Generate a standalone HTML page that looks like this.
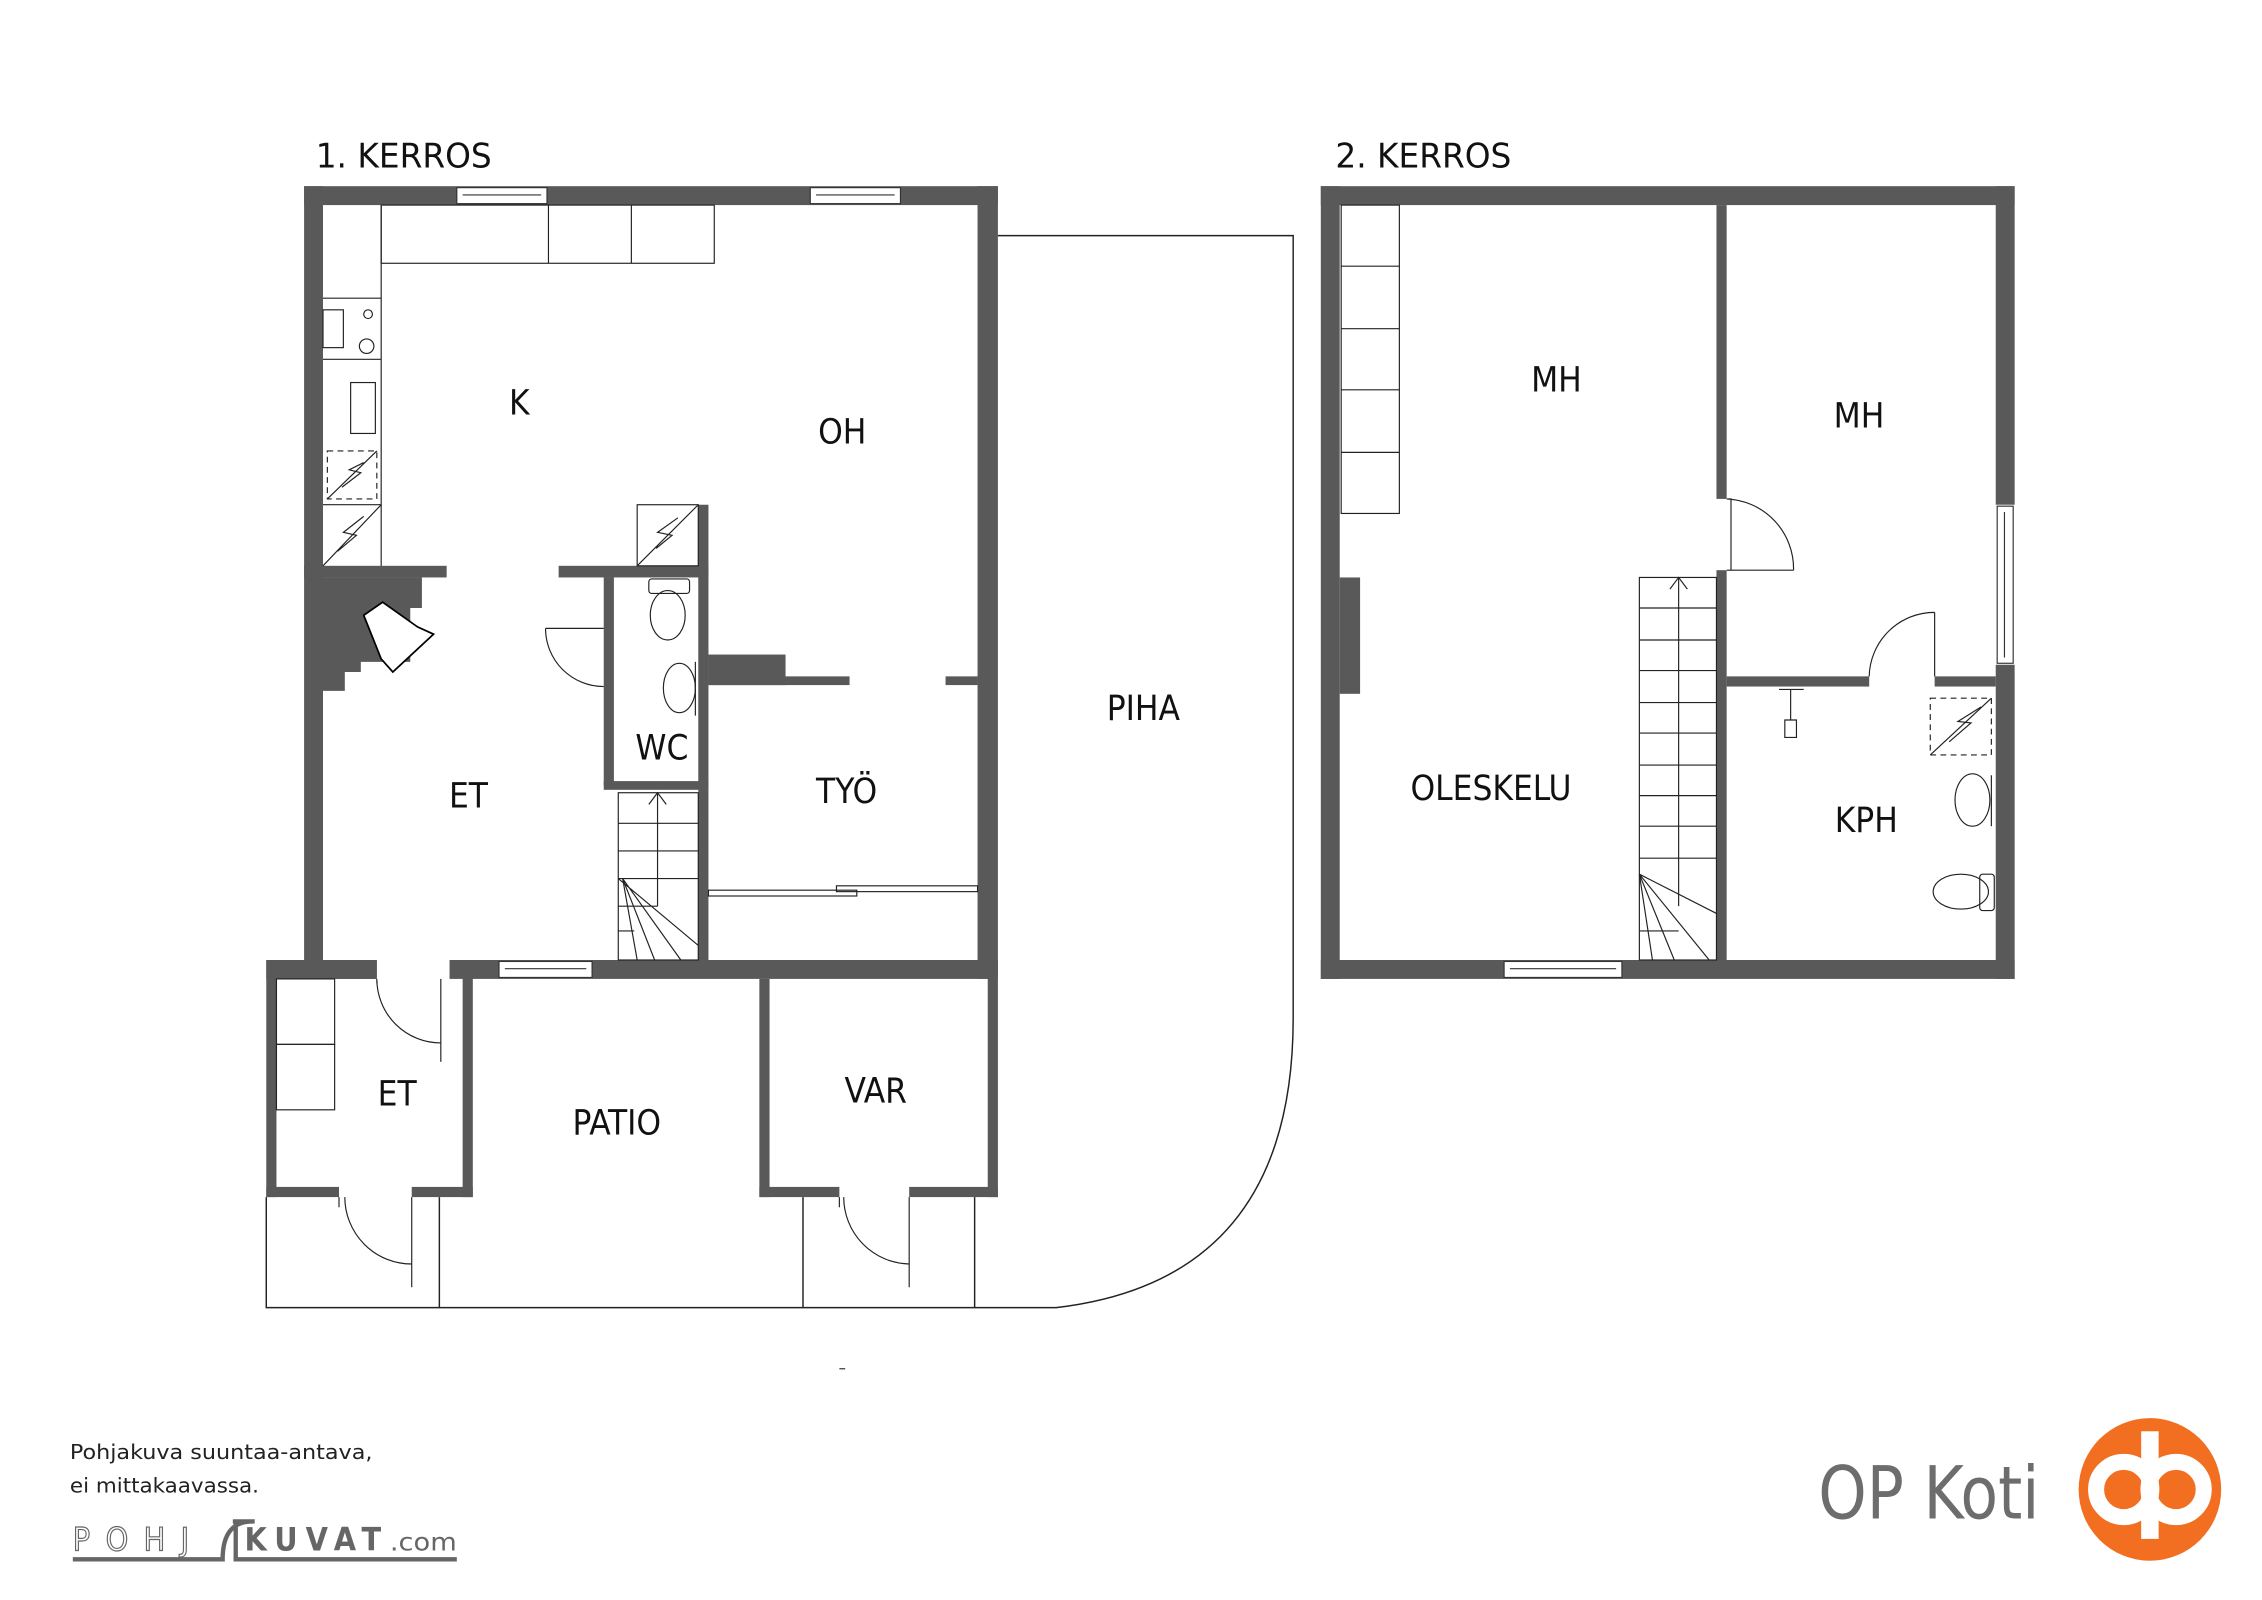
<!DOCTYPE html>
<html><head><meta charset="utf-8"><style>
html,body{margin:0;padding:0;background:#fff}
svg{display:block}
text{font-family:"DejaVu Sans Condensed","Liberation Sans Narrow","Liberation Sans",sans-serif}
</style></head><body>
<svg width="2262" height="1600" viewBox="0 0 1555 1100" xmlns="http://www.w3.org/2000/svg">
<rect width="1555" height="1100" fill="#fff"/>
<g font-size="23" fill="#111">
<text x="217" y="115" textLength="121" lengthAdjust="spacingAndGlyphs">1. KERROS</text>
<text x="918" y="115" textLength="121" lengthAdjust="spacingAndGlyphs">2. KERROS</text>
</g>
<path d="M686 162 H889 V700 Q889 880 726 899 H183 V823 M302 823 V899 M552 823 V899 M670 823 V899" fill="none" stroke="#222" stroke-width="1"/>
<g fill="#595959">
<rect x="209" y="128" width="477" height="13"/>
<rect x="209" y="128" width="13" height="545"/>
<rect x="672" y="128" width="14" height="545"/>
<rect x="209" y="660" width="50" height="13"/>
<rect x="309" y="660" width="377" height="13"/>
<rect x="183" y="660" width="76" height="13"/>
<rect x="209" y="389" width="98" height="8"/>
<path d="M222 397 H290 V418 H282 V455 H248 V462 H237 V475 H222 Z"/>
<rect x="384" y="389" width="103" height="8"/>
<rect x="415" y="397" width="7" height="143"/>
<rect x="480" y="347" width="7" height="313"/>
<rect x="415" y="537" width="72" height="6"/>
<rect x="487" y="450" width="53" height="21"/>
<rect x="487" y="465" width="97" height="6"/>
<rect x="650" y="465" width="22" height="6"/>
<rect x="183" y="660" width="7" height="163"/>
<rect x="318" y="660" width="7" height="163"/>
<rect x="183" y="816" width="50" height="7"/>
<rect x="283" y="816" width="42" height="7"/>
<rect x="522" y="673" width="7" height="150"/>
<rect x="679" y="673" width="7" height="150"/>
<rect x="522" y="816" width="55" height="7"/>
<rect x="625" y="816" width="61" height="7"/>
<rect x="908" y="128" width="477" height="13"/>
<rect x="908" y="128" width="13" height="545"/>
<rect x="1372" y="128" width="13" height="219"/>
<rect x="1372" y="457" width="13" height="216"/>
<rect x="908" y="660" width="477" height="13"/>
<rect x="1180" y="141" width="7" height="202"/>
<rect x="1180" y="392" width="7" height="268"/>
<rect x="1187" y="465" width="98" height="7"/>
<rect x="1330" y="465" width="42" height="7"/>
<rect x="921" y="397" width="14" height="80"/>
</g>
<g fill="#fff" stroke="#333" stroke-width="0.8">
<rect x="314" y="129" width="62" height="11"/><line x1="318" y1="134" x2="372" y2="134"/>
<rect x="557" y="129" width="62" height="11"/><line x1="561" y1="134" x2="615" y2="134"/>
<rect x="343" y="661" width="64" height="11"/><line x1="347" y1="666" x2="403" y2="666"/>
<rect x="1034" y="661" width="81" height="11"/><line x1="1038" y1="666" x2="1111" y2="666"/>
<rect x="1373" y="348" width="11" height="108"/><line x1="1378" y1="352" x2="1378" y2="452"/>
</g>
<g fill="none" stroke="#222" stroke-width="0.8">
<rect x="262" y="141" width="229" height="40"/>
<line x1="377" y1="141" x2="377" y2="181"/><line x1="434" y1="141" x2="434" y2="181"/>
<line x1="262" y1="141" x2="262" y2="389"/>
<line x1="222" y1="205" x2="262" y2="205"/><line x1="222" y1="247" x2="262" y2="247"/>
<rect x="222" y="213" width="14" height="26"/>
<circle cx="253" cy="216" r="3"/><circle cx="252" cy="238" r="5"/>
<rect x="241" y="263" width="17" height="35"/>
<rect x="225" y="310" width="34" height="33" stroke-dasharray="4 3"/>
<path d="M225 343 L259 310 M235 335 L248 325 L240 323 L250 318"/>
<line x1="222" y1="347" x2="262" y2="347"/>
<path d="M222 389 L262 347 M232 379 L245 368 L236 366 L250 355"/>
<rect x="438" y="347" width="42" height="42"/>
<path d="M438 389 L480 347 M451 377 L462 368 L452 366 L466 356"/>
<rect x="446" y="398" width="28" height="10" rx="2"/>
<ellipse cx="459" cy="423" rx="12" ry="17"/>
<ellipse cx="467" cy="473" rx="11" ry="17"/>
<line x1="478" y1="455" x2="478" y2="492"/>
<path d="M375 432 H415 M375 432 A40 40 0 0 0 415 472"/>
<path d="M250 423 L263 414 L287 431 L298 436 L270 462 L262 453 Z" fill="#fff" stroke="#000" stroke-width="1.2"/>
<rect x="425" y="545" width="55" height="115"/>
<line x1="425" y1="566" x2="480" y2="566"/><line x1="425" y1="585" x2="480" y2="585"/><line x1="425" y1="604" x2="480" y2="604"/>
<line x1="452" y1="545" x2="452" y2="623"/>
<path d="M446 553 L452 545 L458 553"/>
<path d="M425 604 L480 650 M428 604 L468 660 M428 604 L450 660 M428 604 L438 660 M425 623 H452 M425 640 H436"/>
<rect x="487" y="612" width="102" height="4"/>
<rect x="575" y="609" width="97" height="4"/>
<rect x="190" y="673" width="40" height="45"/><rect x="190" y="718" width="40" height="45"/>
<path d="M259 673 V676 M303 673 V730 M259 673 A44 44 0 0 0 303 717"/>
<path d="M233 823 V830 M283 823 V885 M237 823 A46 46 0 0 0 283 869"/>
<path d="M577 823 V830 M625 823 V885 M580 823 A46 46 0 0 0 625 869"/>
<rect x="922" y="141" width="40" height="212"/>
<line x1="922" y1="183" x2="962" y2="183"/><line x1="922" y1="226" x2="962" y2="226"/><line x1="922" y1="268" x2="962" y2="268"/><line x1="922" y1="311" x2="962" y2="311"/>
<path d="M1187 343 H1190 V392 M1187 392 H1233 M1187 343 A48 48 0 0 1 1233 392"/>
<path d="M1330 421 V465 M1285 465 A45 45 0 0 1 1330 421"/>
<rect x="1127" y="397" width="53" height="263"/>
<line x1="1154" y1="397" x2="1154" y2="623"/><path d="M1148 405 L1154 397 L1160 405"/>
<g>
<line x1="1127" y1="418" x2="1180" y2="418"/><line x1="1127" y1="440" x2="1180" y2="440"/><line x1="1127" y1="461" x2="1180" y2="461"/><line x1="1127" y1="483" x2="1180" y2="483"/><line x1="1127" y1="504" x2="1180" y2="504"/><line x1="1127" y1="526" x2="1180" y2="526"/><line x1="1127" y1="547" x2="1180" y2="547"/><line x1="1127" y1="568" x2="1180" y2="568"/><line x1="1127" y1="590" x2="1180" y2="590"/>
</g>
<path d="M1127 601 L1180 628 M1127 601 L1175 660 M1127 601 L1151 660 M1127 601 L1136 660 M1127 640 H1154"/>
<rect x="1327" y="480" width="42" height="39" stroke-dasharray="4 3"/>
<path d="M1327 519 L1369 480 M1340 510 L1355 497 L1346 496 L1362 486"/>
<path d="M1223 474 H1240 M1231 474 V495 M1227 495 H1235 V507 H1227 Z"/>
<ellipse cx="1356" cy="550" rx="12" ry="18"/><line x1="1369" y1="533" x2="1369" y2="568"/>
<ellipse cx="1348" cy="613" rx="19" ry="12"/><rect x="1361" y="601" width="10" height="25" rx="2"/>
</g>
<g font-size="24" fill="#111" text-anchor="middle">
<text x="357" y="285">K</text>
<text x="579" y="305">OH</text>
<text x="322" y="555">ET</text>
<text x="455" y="522">WC</text>
<text x="582" y="552">TYÖ</text>
<text x="786" y="495">PIHA</text>
<text x="273" y="760">ET</text>
<text x="424" y="780">PATIO</text>
<text x="602" y="758">VAR</text>
<text x="1070" y="269">MH</text>
<text x="1278" y="294">MH</text>
<text x="1025" y="550">OLESKELU</text>
<text x="1283" y="572">KPH</text>
</g>
<line x1="577" y1="941" x2="581" y2="941" stroke="#555"/>
<g font-size="14" fill="#222">
<text x="48" y="1003" textLength="208" lengthAdjust="spacingAndGlyphs">Pohjakuva suuntaa-antava,</text>
<text x="48" y="1026" textLength="130" lengthAdjust="spacingAndGlyphs">ei mittakaavassa.</text>
</g>
<g>
<text x="50" y="1066" font-size="22" fill="#fff" stroke="#666" stroke-width="0.8" textLength="80" lengthAdjust="spacing">POHJ</text>
<path d="M50 1072 H153 Q153 1045 175 1046 L160 1046 M153 1072 Q153 1045 175 1046 M162 1046 V1072 H314" fill="none" stroke="#666" stroke-width="3"/>
<text x="168" y="1066" font-size="22" font-weight="bold" fill="#666" textLength="94" lengthAdjust="spacing">KUVAT</text>
<text x="268" y="1066" font-size="17" fill="#666" textLength="46" lengthAdjust="spacingAndGlyphs">.com</text>
</g>
<text x="1250" y="1044" font-size="50" fill="#6d6d6d" textLength="152" lengthAdjust="spacingAndGlyphs" style="font-weight:300">OP Koti</text>
<circle cx="1478" cy="1024" r="49" fill="#f26f21"/>
<circle cx="1460" cy="1024" r="19" fill="none" stroke="#fff" stroke-width="11"/>
<circle cx="1496" cy="1024" r="19" fill="none" stroke="#fff" stroke-width="11"/>
<rect x="1472" y="984" width="12" height="74" fill="#fff"/>
</svg>
</body></html>
